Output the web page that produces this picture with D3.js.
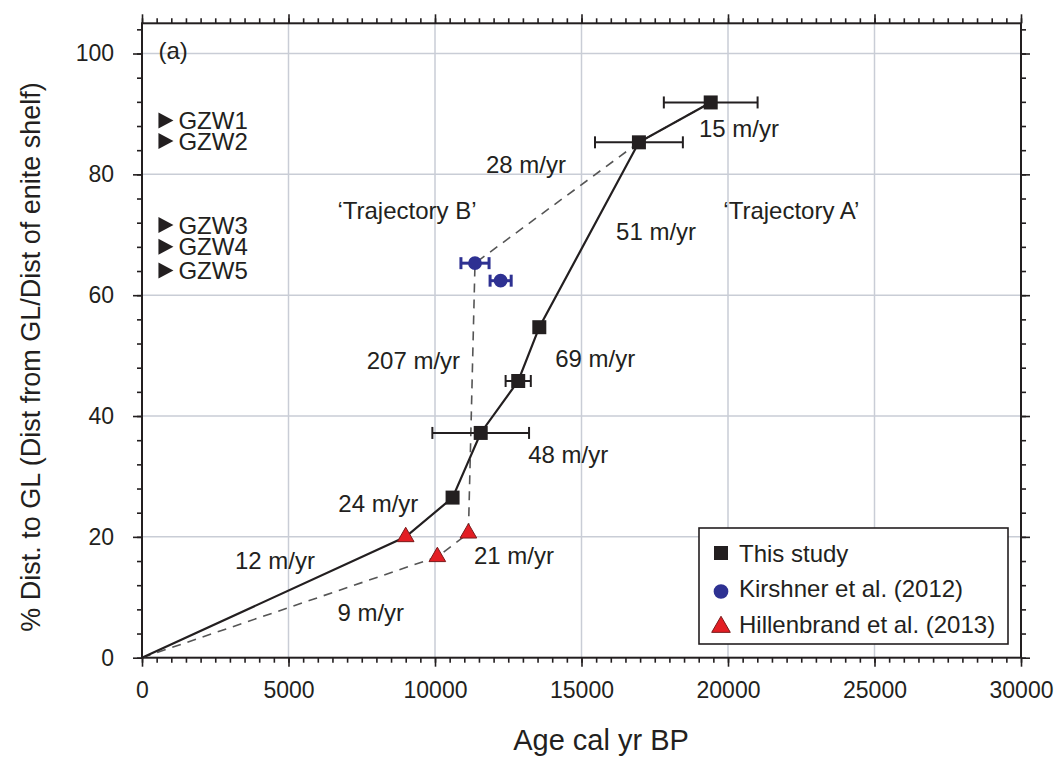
<!DOCTYPE html>
<html>
<head>
<meta charset="utf-8">
<script src="https://cdn.jsdelivr.net/npm/d3@7"></script>
<style>
  body { margin: 0; background: #fff; }
  svg text { font-family: "Liberation Sans", Arial, sans-serif; fill: #231f20; }
</style>
</head>
<body>
<div id="chart"></div>
<script>
// ---- data ----
// This study: age (cal yr BP), % distance, age error
const studyAge = [0, 10600, 11560, 12840, 13560, 16960, 19410];
const studyPct = [0, 26.5, 37.2, 45.8, 54.7, 85.3, 91.9];
const studyErr = [0, 0, 1650, 430, 0, 1500, 1600];

// Kirshner et al. (2012)
const kirAge = [11365, 12240];
const kirPct = [65.3, 62.4];
const kirErr = [480, 360];

// Hillenbrand et al. (2013)
const hilAge = [9000, 10080, 11140];
const hilPct = [20.0, 16.7, 20.6];

// trajectory A (solid) and trajectory B (dashed)
const trajA = [[0, 0], [9000, 20.0], [10600, 26.5], [11560, 37.2], [12840, 45.8], [13560, 54.7], [16960, 85.3], [19410, 91.9]];
const trajB = [[0, 0], [10080, 16.7], [11140, 20.6], [11365, 65.3], [16960, 85.3], [19410, 91.9]];

// grounding-zone wedges
const gzwNames = ['GZW1', 'GZW2', 'GZW3', 'GZW4', 'GZW5'];
const gzwPct = [88.9, 85.5, 71.6, 68.0, 64.1];

// rate labels: text, age, pct (baseline)
const rateLabels = [
  ['15 m/yr', 19010, 86.1],
  ['28 m/yr', 11740, 80.2],
  ['\u2018Trajectory B\u2019', 6670, 72.6],
  ['\u2018Trajectory A\u2019', 19840, 72.6],
  ['51 m/yr', 16180, 69.2],
  ['69 m/yr', 14100, 48.1],
  ['207 m/yr', 7670, 47.8],
  ['48 m/yr', 13180, 32.2],
  ['24 m/yr', 6700, 24.1],
  ['12 m/yr', 3170, 14.6],
  ['21 m/yr', 11330, 15.5],
  ['9 m/yr', 6670, 6.1]
];

const xTicks = [0, 5000, 10000, 15000, 20000, 25000, 30000];
const yTicks = [0, 20, 40, 60, 80, 100];
const legendNames = ['This study', 'Kirshner et al. (2012)', 'Hillenbrand et al. (2013)'];

// ---- layout ----
const W = 1061, H = 758;
const margin = { left: 142, top: 23.3, right: 40, bottom: 100.3 };
const iw = W - margin.left - margin.right;
const ih = H - margin.top - margin.bottom;

const ink = '#231f20';
const blue = '#2e3192';
const red = '#e31e24';
const gridCol = '#c9cdd6';

const svg = d3.select('#chart').append('svg')
  .attr('width', W)
  .attr('height', H);

const g = svg.append('g')
  .attr('transform', `translate(${margin.left},${margin.top})`);

const x = d3.scaleLinear().domain([0, 30000]).range([0, iw]);
const y = d3.scaleLinear().domain([0, 105]).range([ih, 0]);

// grid
g.append('g').selectAll('line')
  .data(xTicks.slice(1, -1))
  .join('line')
  .attr('x1', d => x(d)).attr('x2', d => x(d))
  .attr('y1', 0).attr('y2', ih)
  .attr('stroke', gridCol).attr('stroke-width', 1.5);

g.append('g').selectAll('line')
  .data(yTicks.slice(1))
  .join('line')
  .attr('x1', 0).attr('x2', iw)
  .attr('y1', d => y(d)).attr('y2', d => y(d))
  .attr('stroke', gridCol).attr('stroke-width', 1.5);

// axes: major + minor ticks on all four sides, pointing outward
const xMinor = d3.range(0, 30001, 500);
const yMinor = d3.range(0, 105, 4);

function styleAxis(sel) {
  sel.select('.domain').remove();
  sel.selectAll('line').attr('stroke', ink).attr('stroke-width', 1.6);
  sel.selectAll('text')
    .style('font-size', '23px')
    .attr('fill', ink);
}

g.append('g').attr('transform', `translate(0,${ih})`)
  .call(d3.axisBottom(x).tickValues(xMinor).tickSize(5).tickFormat(''))
  .call(styleAxis);
g.append('g').attr('transform', `translate(0,${ih})`)
  .call(d3.axisBottom(x).tickValues(xTicks).tickSize(9).tickPadding(15).tickFormat(d3.format('d')))
  .call(styleAxis);
g.append('g')
  .call(d3.axisTop(x).tickValues(xMinor).tickSize(5).tickFormat(''))
  .call(styleAxis);
g.append('g')
  .call(d3.axisTop(x).tickValues(xTicks).tickSize(9).tickFormat(''))
  .call(styleAxis);

g.append('g')
  .call(d3.axisLeft(y).tickValues(yMinor).tickSize(5).tickFormat(''))
  .call(styleAxis);
g.append('g')
  .call(d3.axisLeft(y).tickValues(yTicks).tickSize(9).tickPadding(19).tickFormat(d3.format('d')))
  .call(styleAxis);
g.append('g').attr('transform', `translate(${iw},0)`)
  .call(d3.axisRight(y).tickValues(yMinor).tickSize(5).tickFormat(''))
  .call(styleAxis);
g.append('g').attr('transform', `translate(${iw},0)`)
  .call(d3.axisRight(y).tickValues(yTicks).tickSize(9).tickFormat(''))
  .call(styleAxis);

g.append('rect')
  .attr('width', iw).attr('height', ih)
  .attr('fill', 'none').attr('stroke', ink).attr('stroke-width', 2);

// axis titles
svg.append('text')
  .attr('x', 601).attr('y', 750)
  .attr('text-anchor', 'middle')
  .style('font-size', '29px')
  .text('Age cal yr BP');

svg.append('text')
  .attr('transform', 'translate(40,357) rotate(-90)')
  .attr('text-anchor', 'middle')
  .style('font-size', '27px')
  .text('% Dist. to GL (Dist from GL/Dist of enite shelf)');

// trajectories
const line = d3.line().x(d => x(d[0])).y(d => y(d[1]));

g.append('path')
  .datum(trajB)
  .attr('d', line)
  .attr('fill', 'none')
  .attr('stroke', '#555')
  .attr('stroke-width', 1.6)
  .attr('stroke-dasharray', '9,7');

g.append('path')
  .datum(trajA)
  .attr('d', line)
  .attr('fill', 'none')
  .attr('stroke', ink)
  .attr('stroke-width', 2.2);

// error bars
function errorBars(ages, pcts, errs, colour, width) {
  const eb = g.append('g').attr('stroke', colour).attr('stroke-width', width);
  ages.forEach((a, i) => {
    if (!errs[i]) return;
    const yy = y(pcts[i]);
    eb.append('line')
      .attr('x1', x(a - errs[i])).attr('x2', x(a + errs[i]))
      .attr('y1', yy).attr('y2', yy);
    [a - errs[i], a + errs[i]].forEach(e => {
      eb.append('line')
        .attr('x1', x(e)).attr('x2', x(e))
        .attr('y1', yy - 6).attr('y2', yy + 6);
    });
  });
}
errorBars(studyAge, studyPct, studyErr, ink, 2);
errorBars(kirAge, kirPct, kirErr, blue, 3);

// markers
const sqSym = d3.symbol().type(d3.symbolSquare).size(196);
const ciSym = d3.symbol().type(d3.symbolCircle).size(150);
const trSym = d3.symbol().type(d3.symbolTriangle).size(120);

g.append('g').selectAll('path')
  .data(studyAge.map((a, i) => [a, studyPct[i]]).slice(1))
  .join('path')
  .attr('d', sqSym)
  .attr('transform', d => `translate(${x(d[0])},${y(d[1])})`)
  .attr('fill', ink);

g.append('g').selectAll('path')
  .data(kirAge.map((a, i) => [a, kirPct[i]]))
  .join('path')
  .attr('d', ciSym)
  .attr('transform', d => `translate(${x(d[0])},${y(d[1])})`)
  .attr('fill', blue);

g.append('g').selectAll('path')
  .data(hilAge.map((a, i) => [a, hilPct[i]]))
  .join('path')
  .attr('d', trSym)
  .attr('transform', d => `translate(${x(d[0])},${y(d[1])})`)
  .attr('fill', red)
  .attr('stroke', '#7a1a1a')
  .attr('stroke-width', 1);

// rate labels
g.append('g').selectAll('text')
  .data(rateLabels)
  .join('text')
  .attr('x', d => x(d[1]))
  .attr('y', d => y(d[2]))
  .style('font-size', '24px')
  .text(d => d[0]);

g.append('text')
  .attr('x', x(560)).attr('y', y(99.1))
  .style('font-size', '24px')
  .text('(a)');

// GZW markers
const gzw = g.append('g').selectAll('g')
  .data(gzwNames.map((n, i) => [n, gzwPct[i]]))
  .join('g')
  .attr('transform', d => `translate(${x(560)},${y(d[1])})`);
gzw.append('path')
  .attr('d', 'M0,-8L15,0L0,8Z')
  .attr('fill', ink);
gzw.append('text')
  .attr('x', 20).attr('y', 8.5)
  .style('font-size', '24px')
  .text(d => d[0]);

// legend
const lg = svg.append('g').attr('transform', 'translate(699,528)');
lg.append('rect')
  .attr('width', 309).attr('height', 116)
  .attr('fill', '#fff').attr('stroke', ink).attr('stroke-width', 1.6);
const legSyms = [
  { sym: sqSym, fill: ink, stroke: 'none' },
  { sym: d3.symbol().type(d3.symbolCircle).size(170), fill: blue, stroke: 'none' },
  { sym: d3.symbol().type(d3.symbolTriangle).size(150), fill: red, stroke: '#7a1a1a' }
];
const li = lg.selectAll('g.item')
  .data(legendNames)
  .join('g')
  .attr('class', 'item')
  .attr('transform', (d, i) => `translate(0,${25 + i * 35.5})`);
li.append('path')
  .attr('d', (d, i) => legSyms[i].sym())
  .attr('transform', (d, i) => `translate(22,${i === 0 ? 0 : 3})`)
  .attr('fill', (d, i) => legSyms[i].fill)
  .attr('stroke', (d, i) => legSyms[i].stroke);
li.append('text')
  .attr('x', 40).attr('y', 8.5)
  .style('font-size', '24px')
  .text(d => d);
</script>
</body>
</html>
